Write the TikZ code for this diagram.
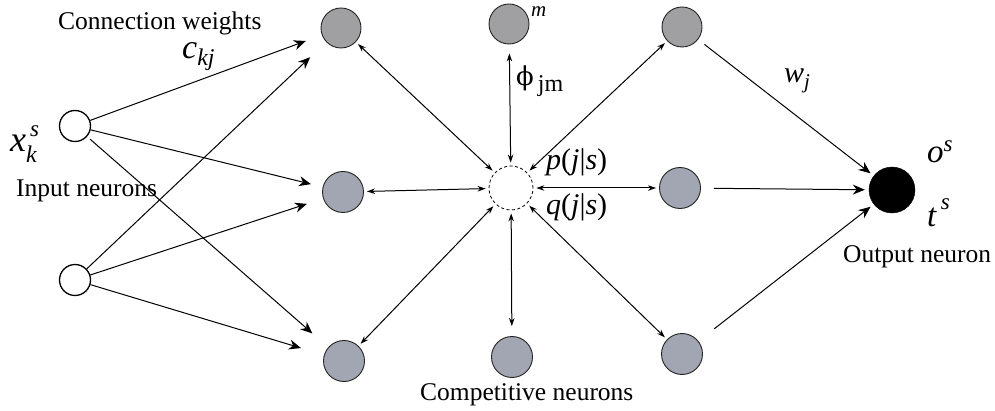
\documentclass[tikz,border=0pt]{standalone}
\usepackage{amsmath}
\usepackage{fontspec}
\setmainfont{Liberation Serif}
\newfontfamily\phifont{DejaVu Serif}
\usetikzlibrary{arrows.meta}
\definecolor{topgray}{RGB}{160,160,163}
\definecolor{bluegray}{RGB}{162,166,178}
\definecolor{edgec}{RGB}{35,35,35}
\begin{document}
\begin{tikzpicture}[x=1pt,y=-1pt,
  inputn/.style={circle,draw=black,line width=1.3pt,fill=white,inner sep=0pt,minimum size=31pt},
  topn/.style={circle,draw=edgec,line width=0.9pt,fill=topgray,inner sep=0pt,minimum size=40pt},
  compn/.style={circle,draw=edgec,line width=0.9pt,fill=bluegray,inner sep=0pt,minimum size=41pt},
  hubn/.style={circle,draw=black,dashed,dash pattern=on 3pt off 2.5pt,line width=0.8pt,inner sep=0pt,minimum size=44pt},
  outn/.style={circle,fill=black,draw=black,inner sep=0pt,minimum size=46pt},
  inarr/.style={-{Stealth[length=12pt,width=10pt]},line width=1pt,black},
  dblarr/.style={{Stealth[length=8pt,width=5.5pt]}-{Stealth[length=8pt,width=5.5pt]},line width=1pt,black,shorten <=3pt,shorten >=3pt},
  outarr/.style={-{Stealth[length=12pt,width=10pt]},line width=1pt,black,shorten <=10pt,shorten >=4pt},
  lbl/.style={inner sep=0pt,font=\fontsize{25.5}{30}\selectfont},
  mlbl/.style={inner sep=0pt,font=\fontsize{30}{36}\selectfont}
]
\useasboundingbox (0,0) rectangle (995,411);

% neurons
\node[inputn] (in1) at (75,126) {};
\node[inputn] (in2) at (75,280) {};
\node[topn] (tl) at (341,28) {};
\node[topn] (tm) at (509,24) {};
\node[topn] (tr) at (682,27) {};
\node[compn] (ml) at (343,192) {};
\node[hubn] (hub) at (511,188) {};
\node[compn] (mr) at (680,188) {};
\node[compn] (bl) at (344,361) {};
\node[compn] (bm) at (512,357) {};
\node[compn] (br) at (682,354) {};
\node[outn] (out) at (892,190) {};

% input connections
\draw[inarr,shorten >=17pt] (in1) -- (tl);
\draw[inarr,shorten >=12pt] (in1) -- (ml);
\draw[inarr,shorten >=21pt,shorten <=4pt] (in1) -- (bl);
\draw[inarr,shorten >=22pt] (in2) -- (tl);
\draw[inarr,shorten >=17pt] (in2) -- (ml);
\draw[inarr,shorten >=24pt] (in2) -- (bl);

% competitive links
\draw[dblarr] (hub) -- (tl);
\draw[dblarr,shorten >=9pt] (hub) -- (tm);
\draw[dblarr] (hub) -- (tr);
\draw[dblarr] (hub) -- (ml);
\draw[dblarr] (hub) -- (mr);
\draw[dblarr] (hub) -- (bl);
\draw[dblarr,shorten >=10pt] (hub) -- (bm);
\draw[dblarr] (hub) -- (br);

% output connections
\draw[outarr,shorten <=8pt] (tr) -- (out);
\draw[outarr,shorten <=13pt] (mr) -- (out);
\draw[outarr,shorten <=20pt] (br) -- (out);

% labels
\node[lbl,anchor=base west] (cw) at (58,30) {Connection weights};
\node[inner sep=0pt,anchor=base west,font=\fontsize{34}{40}\selectfont] (ckj) at (182,59) {\textit{c}\raisebox{-7pt}{\fontsize{24}{28}\selectfont\textit{kj}}};
\node[anchor=base west,inner sep=0pt,font=\fontsize{36}{42}\selectfont] (xks) at (10,152) {\textit{x}\rlap{\raisebox{15pt}{\fontsize{23}{28}\selectfont\,\textit{s}}}\raisebox{-11pt}{\fontsize{24}{28}\selectfont\textit{k}}};
\node[lbl,anchor=base west] (inl) at (16,197) {Input neurons};
\node[inner sep=0pt,anchor=base west,font=\fontsize{21}{24}\selectfont] (mlab) at (531,17) {\textit{m}};
\node[inner sep=0pt,anchor=base west,font=\fontsize{26}{32}\selectfont] (phi) at (516,86) {{\phifont ϕ}\raisebox{-6pt}{\fontsize{24}{28}\selectfont\,jm}};
\node[mlbl,anchor=base west] (pjs) at (546,170) {\textit{p}(\textit{j}|\textit{s})};
\node[mlbl,anchor=base west] (qjs) at (546,215) {\textit{q}(\textit{j}|\textit{s})};
\node[mlbl,anchor=base west] (wj) at (784,83) {$\textit{w}_{\textit{j}}$};
\node[inner sep=0pt,anchor=base west,font=\fontsize{33}{40}\selectfont] (os) at (927,163) {\textit{o}\raisebox{11pt}{\fontsize{23}{28}\selectfont\textit{s}}};
\node[inner sep=0pt,anchor=base west,font=\fontsize{33}{40}\selectfont] (ts) at (927,227) {\textit{t}\raisebox{17pt}{\fontsize{23}{28}\selectfont\,\textit{s}}};
\node[lbl,anchor=base west] (outl) at (843,263) {Output neuron};
\node[lbl,anchor=base west] (compl) at (420,400) {Competitive neurons};
\end{tikzpicture}
\end{document}
